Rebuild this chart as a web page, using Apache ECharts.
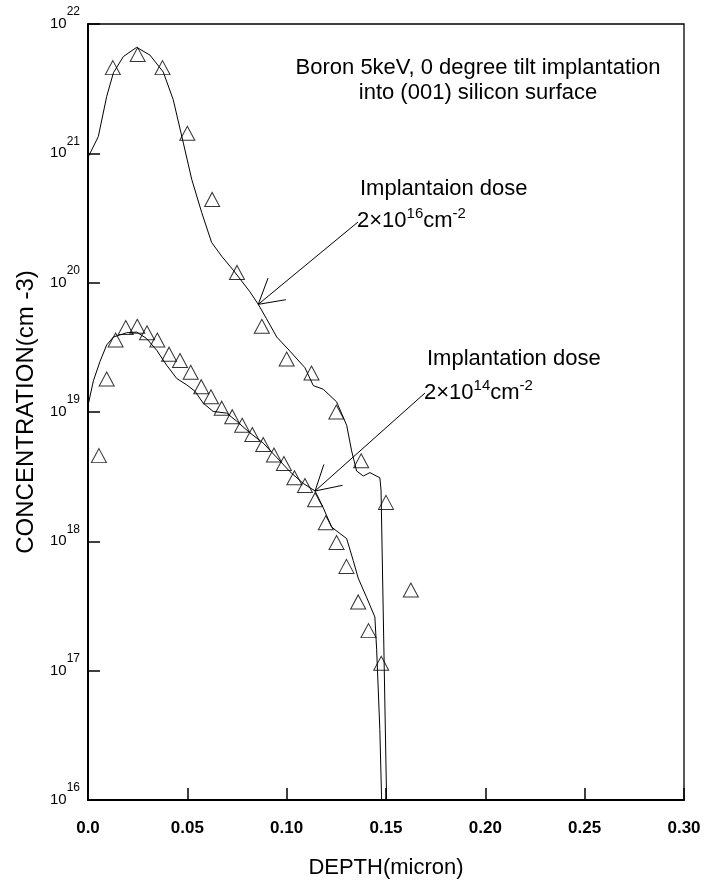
<!DOCTYPE html>
<html>
<head>
<meta charset="utf-8">
<title>Boron 5keV implantation profile</title>
<script src="https://cdn.jsdelivr.net/npm/echarts@6/dist/echarts.min.js"></script>
<style>
html, body { margin: 0; padding: 0; background: #fff; }
#chart { width: 705px; height: 884px; }
</style>
</head>
<body>
<div id="chart"></div>
<script>
// measured points (triangles), dose 2e16
var highDepth = [0.0125, 0.025, 0.0375, 0.05, 0.0625, 0.075, 0.0875, 0.1, 0.1125, 0.125, 0.1375, 0.15, 0.1625];
var highConc  = [4.6e21, 5.8e21, 4.6e21, 1.43e21, 4.4e20, 1.2e20, 4.6e19, 2.57e19, 2.0e19, 1.0e19, 4.2e18, 2.0e18, 4.2e17];

// measured points (triangles), dose 2e14
var lowDepth = [0.0055, 0.0094, 0.0139, 0.019, 0.0248, 0.0297, 0.0349, 0.0408, 0.0463, 0.0517, 0.057, 0.0619, 0.0673, 0.0726,
                0.0776, 0.0827, 0.0882, 0.0936, 0.0986, 0.1039, 0.1092, 0.1143, 0.1197, 0.1251, 0.1301, 0.136, 0.1412, 0.1476];
var lowConc  = [4.6e18, 1.8e19, 3.6e19, 4.5e19, 4.6e19, 4.1e19, 3.6e19, 2.8e19, 2.5e19, 2.03e19, 1.57e19, 1.31e19, 1.07e19, 9.2e18,
                7.9e18, 6.7e18, 5.6e18, 4.65e18, 4.0e18, 3.1e18, 2.7e18, 2.1e18, 1.39e18, 9.8e17, 6.4e17, 3.4e17, 2.04e17, 1.14e17];

// simulated curve, dose 2e16
var highCurveDepth = [0, 0.0052, 0.0094, 0.0128, 0.0178, 0.0245, 0.0312, 0.0379, 0.0429, 0.048, 0.0522, 0.0572, 0.0622, 0.0673,
                      0.0731, 0.0765, 0.0815, 0.0857, 0.0899, 0.095, 0.1017, 0.1092, 0.1134, 0.1184, 0.1251, 0.1302, 0.1327,
                      0.1352, 0.1386, 0.1419, 0.1469, 0.1475, 0.1503];
var highCurveConc  = [9.3e20, 1.35e21, 2.75e21, 4.2e21, 5.6e21, 6.6e21, 5.75e21, 4.25e21, 2.6e21, 1.2e21, 6.3e20, 3.5e20, 2.05e20, 1.6e20,
                      1.25e20, 1.07e20, 8.5e19, 6.8e19, 5.25e19, 3.8e19, 2.95e19, 2.2e19, 1.6e19, 1.5e19, 1.2e19, 7.9e18, 5.0e18,
                      3.5e18, 3.2e18, 3.4e18, 3.1e18, 2.5e18, 1e16];

// simulated curve, dose 2e14
var lowCurveDepth = [0, 0.0027, 0.006, 0.0094, 0.0128, 0.0195, 0.0245, 0.0295, 0.0346, 0.0396, 0.0446, 0.0497, 0.0538, 0.058,
                     0.063, 0.0698, 0.0748, 0.0815, 0.0882, 0.095, 0.1017, 0.1084, 0.1143, 0.1184, 0.1226, 0.1268, 0.1302,
                     0.1335, 0.136, 0.1402, 0.1444, 0.1453, 0.1469, 0.1478];
var lowCurveConc  = [1.12e19, 1.74e19, 2.45e19, 3.3e19, 3.8e19, 4.1e19, 4.15e19, 3.7e19, 3.0e19, 2.3e19, 1.82e19, 1.62e19, 1.45e19, 1.17e19,
                     1.01e19, 9.8e18, 8.5e18, 6.9e18, 5.75e18, 4.45e18, 3.45e18, 2.8e18, 2.45e18, 1.82e18, 1.29e18, 1.15e18, 1.05e18,
                     7.1e17, 5.2e17, 3.7e17, 2.6e17, 1.45e17, 3.5e16, 1e16];

// axis ticks
var xTicks = ['0.0', '0.05', '0.10', '0.15', '0.20', '0.25', '0.30'];
var yExps = [16, 17, 18, 19, 20, 21, 22];

// arrow tips sit on the simulated curves
var highArrowTip = [0.0857, 6.8e19];
var lowArrowTip = [0.1143, 2.45e18];

function pairs(xs, ys) {
    var out = [];
    for (var i = 0; i < xs.length; i++) out.push([xs[i], ys[i]]);
    return out;
}

var font = "'Liberation Sans', Arial, sans-serif";

var triStyle = {
    type: 'scatter',
    symbol: 'triangle',
    symbolSize: [15, 14],
    itemStyle: { color: 'rgba(0,0,0,0)', borderColor: '#000', borderWidth: 1 },
    z: 3
};
var lineStyle = {
    type: 'line',
    showSymbol: false,
    symbol: 'none',
    smooth: false,
    lineStyle: { color: '#000', width: 1 },
    z: 2
};

var option = {
    backgroundColor: '#fff',
    animation: false,
    grid: {
        left: 88, right: 21, top: 24, bottom: 81,
        show: true, borderColor: '#000', borderWidth: 1.3, backgroundColor: 'transparent'
    },
    xAxis: {
        type: 'value',
        min: 0, max: 0.3, interval: 0.05,
        name: 'DEPTH(micron)',
        nameLocation: 'middle',
        nameGap: 57,
        nameTextStyle: { fontFamily: font, fontSize: 22, color: '#000' },
        axisLine: { lineStyle: { color: '#000', width: 2 } },
        axisTick: { inside: true, length: 12, lineStyle: { color: '#000', width: 1.5 } },
        splitLine: { show: false },
        axisLabel: {
            margin: 20,
            fontFamily: font, fontSize: 17, fontWeight: 'bold', color: '#000',
            formatter: function (v) { return xTicks[Math.round(v / 0.05)]; }
        }
    },
    yAxis: {
        type: 'log',
        logBase: 10,
        min: 1e16, max: 1e22, interval: 1,
        name: 'CONCENTRATION(cm -3)',
        nameLocation: 'middle',
        nameGap: 50,
        nameTextStyle: { fontFamily: font, fontSize: 24, color: '#000' },
        axisLine: { lineStyle: { color: '#000', width: 2 } },
        axisTick: { inside: true, length: 12, lineStyle: { color: '#000', width: 1.5 } },
        splitLine: { show: false },
        axisLabel: {
            margin: 8,
            color: '#000',
            formatter: function (v) {
                var e = Math.round(Math.log10(v));
                if (yExps.indexOf(e) < 0) return '';
                return '{b|10}{s|' + e + '}';
            },
            rich: {
                b: { fontFamily: font, fontSize: 15, lineHeight: 36, color: '#000' },
                s: { fontFamily: font, fontSize: 12, lineHeight: 12, verticalAlign: 'top', color: '#000' }
            }
        }
    },
    series: [
        Object.assign({ name: 'sim 2e16', data: pairs(highCurveDepth, highCurveConc) }, lineStyle),
        Object.assign({ name: 'sim 2e14', data: pairs(lowCurveDepth, lowCurveConc) }, lineStyle),
        Object.assign({ name: 'meas 2e16', data: pairs(highDepth, highConc) }, triStyle),
        Object.assign({ name: 'meas 2e14', data: pairs(lowDepth, lowConc) }, triStyle)
    ]
};

var myChart = echarts.init(document.getElementById('chart'));
myChart.setOption(option);

// annotations: texts and open arrows
function arrow(start, tipData) {
    var tip = myChart.convertToPixel({ gridIndex: 0 }, tipData);
    var ang = Math.atan2(start[1] - tip[1], start[0] - tip[0]);
    var len = 28, spread = Math.PI / 6;
    var b1 = [tip[0] + len * Math.cos(ang - spread), tip[1] + len * Math.sin(ang - spread)];
    var b2 = [tip[0] + len * Math.cos(ang + spread), tip[1] + len * Math.sin(ang + spread)];
    return [
        { type: 'line', shape: { x1: start[0], y1: start[1], x2: tip[0], y2: tip[1] }, style: { stroke: '#000', lineWidth: 1 } },
        { type: 'polyline', shape: { points: [b1, tip, b2] }, style: { stroke: '#000', lineWidth: 1, fill: null } }
    ];
}

var supRich = {
    n: { fontFamily: font, fontSize: 22, lineHeight: 30, fill: '#000' },
    s: { fontFamily: font, fontSize: 15, lineHeight: 14, verticalAlign: 'top', fill: '#000' }
};

var graphics = [
    {
        type: 'text', x: 478, y: 55,
        style: {
            text: 'Boron 5keV, 0 degree tilt implantation\ninto (001) silicon surface',
            font: '22px ' + font, fill: '#000', textAlign: 'center', textVerticalAlign: 'top', lineHeight: 25
        }
    },
    { type: 'text', x: 360, y: 189, style: { text: 'Implantaion dose', font: '22px ' + font, fill: '#000', textVerticalAlign: 'middle' } },
    { type: 'text', x: 357, y: 221, style: { text: '{n|2×10}{s|16}{n|cm}{s|-2}', rich: supRich, textVerticalAlign: 'middle' } },
    { type: 'text', x: 427, y: 359, style: { text: 'Implantation dose', font: '22px ' + font, fill: '#000', textVerticalAlign: 'middle' } },
    { type: 'text', x: 424, y: 393, style: { text: '{n|2×10}{s|14}{n|cm}{s|-2}', rich: supRich, textVerticalAlign: 'middle' } }
].concat(arrow([358, 222], highArrowTip), arrow([425, 393], lowArrowTip));

myChart.setOption({ graphic: graphics });
</script>
</body>
</html>
